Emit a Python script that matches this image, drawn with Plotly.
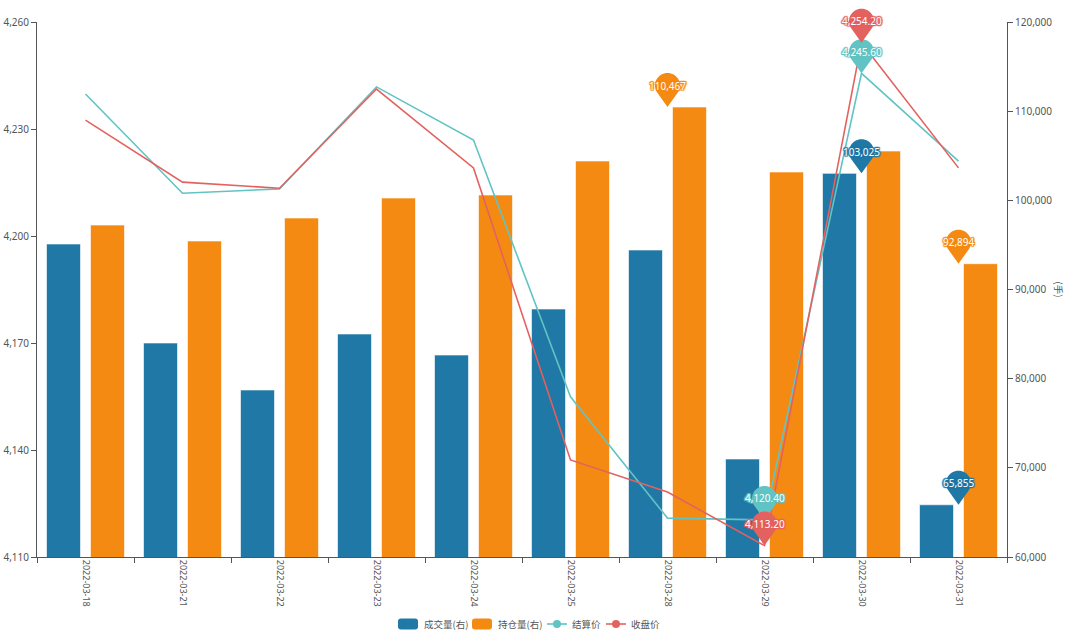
import math
import plotly.graph_objects as go

dates = ["2022-03-18", "2022-03-21", "2022-03-22", "2022-03-23", "2022-03-24",
         "2022-03-25", "2022-03-28", "2022-03-29", "2022-03-30", "2022-03-31"]
volume = [95100, 84000, 78730, 85010, 82650, 87810, 94430, 70990, 103025, 65855]
open_interest = [97230, 95440, 98020, 100260, 100600, 104410, 110467, 103180, 105530, 92894]
settle = [4239.8, 4212.0, 4213.2, 4241.8, 4226.9, 4154.9, 4120.9, 4120.40, 4245.60, 4221.0]
close = [4232.5, 4215.1, 4213.4, 4241.2, 4219.1, 4137.2, 4128.2, 4113.20, 4254.20, 4219.1]

left_ticks = [4110, 4140, 4170, 4200, 4230, 4260]
right_ticks = [60000, 70000, 80000, 90000, 100000, 110000, 120000]

BLUE = "#1f78a5"
ORANGE = "#f58a12"
TEAL = "#62c3c4"
RED = "#e3625f"
TXT = "#555555"

W, H = 1080, 637
ML, MR, MT, MB = 37, 73, 22, 80
PW = W - ML - MR
PH = H - MT - MB
L_RANGE = [left_ticks[0], left_ticks[-1]]
R_RANGE = [right_ticks[0], right_ticks[-1]]

FONT = "Noto Sans, Noto Sans CJK SC, sans-serif"
CJK = "Noto Sans CJK SC, sans-serif"


def px_x(p):
    return (p - ML) / PW


def px_y(p):
    return (H - MB - p) / PH


fig = go.Figure()
bar_line = dict(color="rgba(255,255,255,0.6)", width=1)
fig.add_trace(go.Bar(x=dates, y=volume, name="成交量(右)", marker=dict(color=BLUE, line=bar_line),
                     yaxis="y", offsetgroup="a", showlegend=False))
fig.add_trace(go.Bar(x=dates, y=open_interest, name="持仓量(右)", marker=dict(color=ORANGE, line=bar_line),
                     yaxis="y", offsetgroup="b", showlegend=False))
fig.add_trace(go.Scatter(x=dates, y=settle, name="结算价", mode="lines", yaxis="y2",
                         line=dict(color=TEAL, width=1.6), showlegend=False))
fig.add_trace(go.Scatter(x=dates, y=close, name="收盘价", mode="lines", yaxis="y2",
                         line=dict(color=RED, width=1.6), showlegend=False))

# pin outline (pixels relative to the tip, y up)
PIN_R = 12.5
PIN_C = 21.5


def pin_path():
    phi = math.acos(PIN_R / PIN_C)
    a0 = -math.pi / 2 + phi
    a1 = -math.pi / 2 - phi + 2 * math.pi
    n = 4
    step = (a1 - a0) / n
    k = 4 / 3 * math.tan(step / 4) * PIN_R

    def pt(a):
        return PIN_R * math.cos(a), PIN_C + PIN_R * math.sin(a)

    x0, y0 = pt(a0)
    d = f"M 0 0 L {x0:.2f} {y0:.2f}"
    for j in range(n):
        s = a0 + j * step
        e = s + step
        sx, sy = pt(s)
        ex, ey = pt(e)
        c1x, c1y = sx - k * math.sin(s), sy + k * math.cos(s)
        c2x, c2y = ex + k * math.sin(e), ey - k * math.cos(e)
        d += f" C {c1x:.2f} {c1y:.2f} {c2x:.2f} {c2y:.2f} {ex:.2f} {ey:.2f}"
    d += " Z"
    return d


PIN = pin_path()


def add_pin(series, color, rng, fmt):
    imax = series.index(max(series))
    imin = series.index(min(series))
    shadow = ", ".join(f"{a}px {b}px 1px {color}" for a, b in
                       [(1, 0), (-1, 0), (0, 1), (0, -1), (1, 1), (-1, -1), (1, -1), (-1, 1)])
    for i in (imax, imin):
        yv = series[i]
        frac = (yv - rng[0]) / (rng[1] - rng[0])
        fig.add_shape(type="path", xref="x", yref="paper", xsizemode="pixel", ysizemode="pixel",
                      xanchor=i, yanchor=frac, path=PIN, fillcolor=color, line=dict(width=0),
                      layer="above")
        fig.add_annotation(x=i, y=frac, xref="x", yref="paper", yshift=PIN_C, showarrow=False,
                           text=fmt.format(yv), xanchor="center", yanchor="middle",
                           font=dict(color="white", size=10, family=FONT, shadow=shadow))


add_pin(settle, TEAL, L_RANGE, "{:,.2f}")
add_pin(close, RED, L_RANGE, "{:,.2f}")
add_pin(volume, BLUE, R_RANGE, "{:,.0f}")
add_pin(open_interest, ORANGE, R_RANGE, "{:,.0f}")

axis_common = dict(showgrid=False, zeroline=False, showline=True, linecolor="#555", linewidth=1,
                   ticks="outside", ticklen=5, tickcolor="#555",
                   tickfont=dict(size=10, color=TXT, family=FONT))

fig.update_layout(
    width=W, height=H,
    margin=dict(l=ML, r=MR, t=MT, b=MB, autoexpand=False),
    plot_bgcolor="white", paper_bgcolor="white",
    barmode="group", bargap=0.093, bargroupgap=0.227,
    font=dict(family=FONT, color=TXT),
    showlegend=False,
    xaxis=dict(type="category", tickson="boundaries", tickangle=90, **axis_common),
    yaxis=dict(range=R_RANGE, tickvals=right_ticks, tickformat=",d", side="right", **axis_common),
    yaxis2=dict(range=L_RANGE, tickvals=left_ticks, tickformat=",d", side="left", overlaying="y", **axis_common),
)
fig.update_xaxes(tickfont=dict(size=9))

fig.add_annotation(text="(手)", xref="paper", yref="paper", x=1, xshift=52, y=0.5, showarrow=False,
                   xanchor="center", yanchor="middle",
                   textangle=90, font=dict(size=9.5, color=TXT, family=CJK))

# custom legend (layout decoration, pixel positions converted to paper coords)
LY = 624
legend_items = [
    ("rect", BLUE, 398, "成交量(右)"),
    ("rect", ORANGE, 472, "持仓量(右)"),
    ("line", TEAL, 547, "结算价"),
    ("line", RED, 606, "收盘价"),
]
for kind, color, x0, label in legend_items:
    if kind == "rect":
        w, h, r = 20, 11, 3
        x1 = x0 + w
        y0, y1 = LY - h / 2, LY + h / 2
        path = (f"M {px_x(x0 + r)} {px_y(y0)} L {px_x(x1 - r)} {px_y(y0)} "
                f"Q {px_x(x1)} {px_y(y0)} {px_x(x1)} {px_y(y0 + r)} L {px_x(x1)} {px_y(y1 - r)} "
                f"Q {px_x(x1)} {px_y(y1)} {px_x(x1 - r)} {px_y(y1)} L {px_x(x0 + r)} {px_y(y1)} "
                f"Q {px_x(x0)} {px_y(y1)} {px_x(x0)} {px_y(y1 - r)} L {px_x(x0)} {px_y(y0 + r)} "
                f"Q {px_x(x0)} {px_y(y0)} {px_x(x0 + r)} {px_y(y0)} Z")
        fig.add_shape(type="path", path=path, xref="paper", yref="paper", fillcolor=color,
                      line=dict(width=0))
        tx = x1 + 4
    else:
        w = 20
        fig.add_shape(type="line", xref="paper", yref="paper", x0=px_x(x0), x1=px_x(x0 + w),
                      y0=px_y(LY), y1=px_y(LY), line=dict(color=color, width=1.6))
        cx = x0 + w / 2
        rr = 4
        fig.add_shape(type="circle", xref="paper", yref="paper", x0=px_x(cx - rr), x1=px_x(cx + rr),
                      y0=px_y(LY - rr), y1=px_y(LY + rr), fillcolor=color, line=dict(width=0))
        tx = x0 + w + 3
    fig.add_annotation(text=label, xref="paper", yref="paper", x=px_x(tx), y=px_y(LY),
                       xanchor="left", yanchor="middle", showarrow=False,
                       font=dict(size=9.5, color=TXT, family=CJK))

fig.write_html("out.html", config={"displayModeBar": False},
               post_script="document.body.style.margin='0';")
